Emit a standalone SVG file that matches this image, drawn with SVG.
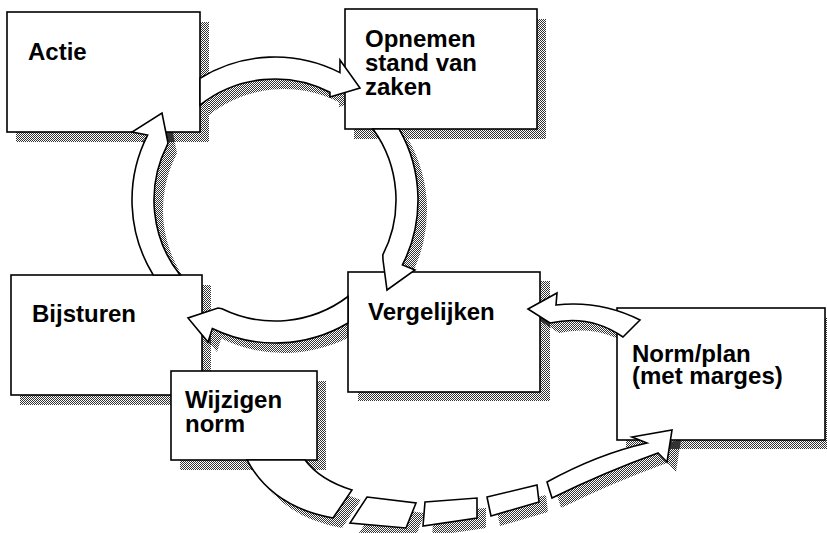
<svg xmlns="http://www.w3.org/2000/svg" xmlns:xlink="http://www.w3.org/1999/xlink" width="827" height="533" viewBox="0 0 827 533">
<style>
.box{fill:#fff;stroke:#000;stroke-width:1.6}
.shd{fill:url(#dots);stroke:none}
.arr{fill:#fff;stroke:#000;stroke-width:1.6;stroke-linejoin:miter}
.lbl{font-family:"Liberation Sans",Arial,sans-serif;font-weight:bold;font-size:24px;fill:#000}
</style>
<defs>
<pattern id="dots" width="2" height="2" patternUnits="userSpaceOnUse">
<rect width="1" height="1" fill="#333"/><rect x="1" y="1" width="1" height="1" fill="#333"/>
</pattern>
<path id="a1" d="M200,105.05 L200,78.25 A143,143 0 0 1 339.92,72.59 L340,60 L360,88 L330,97 L329.93,92.19 A121,121 0 0 0 200,105.05 Z"/>
<path id="a2" d="M372.98,129 L399.13,129 A143,143 0 0 1 402.41,264.92 L415,270 L387,290 L383,260 L382.81,254.93 A121,121 0 0 0 372.98,129 Z"/>
<path id="a3" d="M348,296.5 L348,322.96 A143,143 0 0 1 212.31,328.53 L208,342 L188,318 L218,308 L221.96,308.75 A121,121 0 0 0 348,296.5 Z"/>
<path id="a4" d="M180.05,275 L153.25,275 A143,143 0 0 1 147.59,135.08 L132,132 L162,113 L168,143 L167.19,145.07 A121,121 0 0 0 180.05,275 Z"/>
<path id="a5" d="M528,309 L557,293 L556,305 Q600,300 640,320 L623,337 Q590,314 550,323 Z"/>
<path id="b1" d="M247,460 Q272,507 333,518 L352,490 Q320,480 305,460 Z"/>
<path id="b2" d="M367,497 L416,503 L406,528 L350,523 Z"/>
<path id="b3" d="M425,502 L477,498 L477,518 L423,526 Z"/>
<path id="b4" d="M487,497 L537,485 L539,502 L491,516 Z"/>
<path id="b5" d="M547,482 Q598,454 647,443 L632,437 L672,430 L667,462 L658,453 Q605,472 552,498 Z"/>
</defs>
<rect width="827" height="533" fill="#fff"/>
<g id="connector-shadows" transform="translate(9,10)">
<use xlink:href="#a1" class="shd"/><use xlink:href="#a2" class="shd"/><use xlink:href="#a3" class="shd"/><use xlink:href="#a4" class="shd"/><use xlink:href="#a5" class="shd"/>
<use xlink:href="#b1" class="shd"/><use xlink:href="#b2" class="shd"/><use xlink:href="#b3" class="shd"/><use xlink:href="#b4" class="shd"/><use xlink:href="#b5" class="shd"/>
</g>
<g id="actie">
<rect class="shd" x="16" y="22" width="193" height="120"/>
<rect class="box" x="7" y="12" width="193" height="120"/>
<text class="lbl" x="28" y="60">Actie</text>
</g>
<g id="opnemen">
<rect class="shd" x="354" y="19" width="192" height="120"/>
<rect class="box" x="345" y="9" width="192" height="120"/>
<text class="lbl" x="365" y="47">Opnemen</text>
<text class="lbl" x="365" y="71">stand van</text>
<text class="lbl" x="365" y="95">zaken</text>
</g>
<g id="bijsturen">
<rect class="shd" x="20" y="285" width="191" height="120"/>
<rect class="box" x="11" y="275" width="191" height="120"/>
<text class="lbl" x="32" y="322">Bijsturen</text>
</g>
<g id="wijzigen">
<rect class="shd" x="180" y="381" width="146" height="89"/>
<rect class="box" x="171" y="371" width="146" height="89"/>
<text class="lbl" x="185" y="408">Wijzigen</text>
<text class="lbl" x="185" y="432">norm</text>
</g>
<g id="vergelijken">
<rect class="shd" x="358" y="281" width="192" height="120"/>
<rect class="box" x="348" y="272" width="192" height="120"/>
<text class="lbl" x="368" y="320">Vergelijken</text>
</g>
<g id="normplan">
<rect class="shd" x="626" y="318" width="208" height="131"/>
<rect class="box" x="617" y="308" width="208" height="132"/>
<text class="lbl" x="632" y="362">Norm/plan</text>
<text class="lbl" x="632" y="384">(met marges)</text>
</g>
<g id="connectors">
<use xlink:href="#a1" class="arr"/><use xlink:href="#a2" class="arr"/><use xlink:href="#a3" class="arr"/><use xlink:href="#a4" class="arr"/><use xlink:href="#a5" class="arr"/>
<use xlink:href="#b1" class="arr"/><use xlink:href="#b2" class="arr"/><use xlink:href="#b3" class="arr"/><use xlink:href="#b4" class="arr"/><use xlink:href="#b5" class="arr"/>
</g>
</svg>
